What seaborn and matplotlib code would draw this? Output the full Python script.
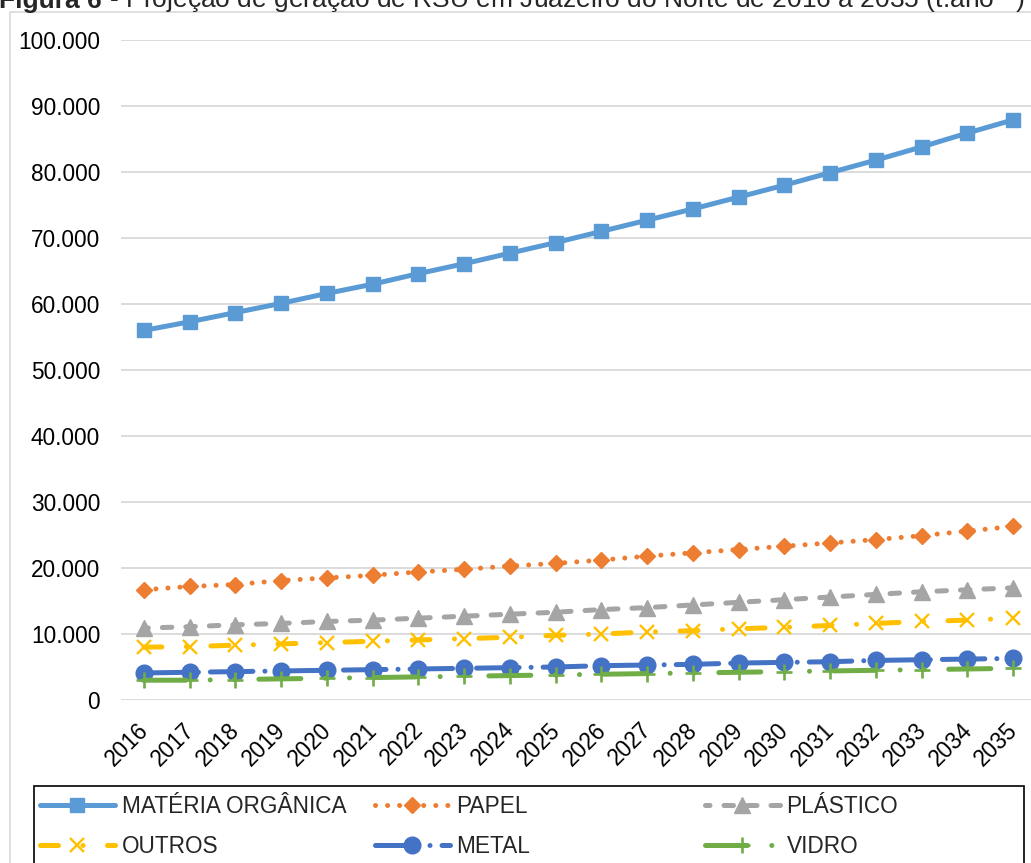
import matplotlib
matplotlib.use("Agg")
import matplotlib.pyplot as plt
import seaborn as sns
from matplotlib.patches import Rectangle
from matplotlib.ticker import FuncFormatter, MultipleLocator
from matplotlib.transforms import ScaledTranslation

# Projected municipal solid waste generation (t/year) by material
anos = list(range(2016, 2036))
materia_organica = [56000, 57300, 58700, 60100, 61600, 63000, 64600, 66100, 67700, 69300,
                    71000, 72700, 74400, 76200, 78000, 79900, 81800, 83800, 85900, 87900]
papel = [16700, 17200, 17500, 18100, 18500, 18900, 19400, 19800, 20300, 20700,
         21200, 21800, 22300, 22800, 23300, 23800, 24300, 24900, 25600, 26300]
plastico = [10900, 11100, 11400, 11600, 11900, 12100, 12400, 12700, 13000, 13300,
            13700, 14000, 14400, 14800, 15200, 15600, 16000, 16400, 16700, 17000]
outros = [8000, 8100, 8300, 8500, 8700, 8900, 9100, 9300, 9500, 9800,
          10000, 10300, 10500, 10800, 11000, 11300, 11600, 11900, 12100, 12400]
metal = [4100, 4200, 4300, 4400, 4500, 4600, 4700, 4800, 4900, 5000,
         5200, 5300, 5400, 5600, 5700, 5800, 6000, 6100, 6200, 6300]
vidro = [3000, 3000, 3100, 3200, 3300, 3400, 3500, 3600, 3700, 3800,
         3900, 4000, 4100, 4200, 4300, 4400, 4500, 4600, 4700, 4800]

rotulos = ["MATÉRIA ORGÂNICA", "PAPEL", "PLÁSTICO", "OUTROS", "METAL", "VIDRO"]
titulo_negrito = "Figura 6"
titulo_resto = " - Projeção de geração de RSU em Juazeiro do Norte de 2016 a 2035 (t.ano$^{-1}$)"

sns.set_theme(style="white")
plt.rcParams["font.family"] = ["Liberation Sans", "DejaVu Sans"]
plt.rcParams["mathtext.fontset"] = "custom"
plt.rcParams["mathtext.rm"] = "Liberation Sans"

W, H = 1031, 863
fig = plt.figure(figsize=(W / 100, H / 100), dpi=100)
fig.patch.set_facecolor("white")


def fx(px):
    return px / W


def fy(py):
    return 1 - py / H


ax = fig.add_axes([fx(121), fy(700), (1036 - 121) / W, (700 - 40) / H])
ax.set_facecolor("white")

LW = 3.6
series = [
    (materia_organica, "#5B9BD5", "s", 10.0, 1.0, "-"),
    (papel, "#ED7D31", "D", 8.0, 1.0, (0, (0.01, 2.4))),
    (plastico, "#A5A5A5", "^", 11.0, 1.0, (1.0, (1.9, 2.8))),
    (outros, "#FFC000", "x", 10.0, 1.7, (0, (3.6, 4.9, 0.01, 4.9))),
    (metal, "#4472C4", "o", 12.0, 1.0, (0, (8.5, 2.4, 0.01, 2.4))),
    (vidro, "#70AD47", "+", 11.0, 1.9, (0, (8.4, 4.86, 0.01, 4.86, 0.01, 4.86))),
]

handles = []
for (vals, cor, mk, ms, mew, ls), rot in zip(series, rotulos):
    sns.lineplot(x=anos, y=vals, ax=ax, color=cor, marker=mk, markersize=ms,
                 markeredgewidth=mew, markeredgecolor=cor, markerfacecolor=cor,
                 linewidth=LW, linestyle=ls, dash_capstyle="round",
                 solid_capstyle="round", label=rot, legend=False, zorder=3)
    handles.append(ax.lines[-1])

if ax.get_legend() is not None:
    ax.get_legend().remove()

ax.set_xlim(2015.5, 2035.5)
ax.set_ylim(0, 100000)
ax.yaxis.set_major_locator(MultipleLocator(10000))
ax.yaxis.set_major_formatter(FuncFormatter(lambda v, p: f"{int(round(v)):,}".replace(",", ".")))
ax.set_xticks(anos)
ax.set_xticklabels([str(a) for a in anos])
ax.grid(axis="y", color="#D9D9D9", linewidth=1.3)
ax.grid(axis="x", visible=False)
ax.set_axisbelow(True)
for s in ax.spines.values():
    s.set_visible(False)
ax.set_xlabel("")
ax.set_ylabel("")
ax.tick_params(axis="y", length=0, pad=15, labelsize=16.3, labelcolor="black")
ax.tick_params(axis="x", length=0, pad=19, labelsize=16.3, labelcolor="black")
desloc = ScaledTranslation(1 / 100, 0, fig.dpi_scale_trans)
for lab in ax.get_xticklabels():
    lab.set_rotation(45)
    lab.set_ha("right")
    lab.set_va("center")
    lab.set_rotation_mode("anchor")
    lab.set_transform(lab.get_transform() + desloc)

# Outer chart border and legend frame
fig.patches.append(Rectangle((fx(9.5), fy(900)), (1100 - 9.5) / W, (900 - 12) / H,
                             transform=fig.transFigure, fill=False,
                             edgecolor="#D9D9D9", linewidth=1.2, zorder=0))
fig.patches.append(Rectangle((fx(34), fy(900)), (1024 - 34) / W, (900 - 786) / H,
                             transform=fig.transFigure, fill=False,
                             edgecolor="black", linewidth=1.2, zorder=1))

# Legend: three evenly spaced columns of two entries
colunas = [(40, [0, 3]), (375, [1, 4]), (705, [2, 5])]
for xpx, idx in colunas:
    leg = fig.legend([handles[i] for i in idx], [rotulos[i] for i in idx],
                     loc="upper left", bbox_to_anchor=(fx(xpx), fy(795)),
                     bbox_transform=fig.transFigure, frameon=False,
                     fontsize=16.3, handlelength=3.3, handletextpad=0.3,
                     borderpad=0, borderaxespad=0, labelspacing=0.75,
                     numpoints=1)

# Caption
fig.canvas.draw()
r = fig.canvas.get_renderer()
t1 = fig.text(fx(-1), fy(8), titulo_negrito, fontsize=19, fontweight="bold",
              ha="left", va="baseline")
bb = t1.get_window_extent(r)
fig.text(bb.x1 / W, fy(8), titulo_resto, fontsize=19, ha="left", va="baseline")

fig.savefig("out.png", dpi=100, facecolor="white")
